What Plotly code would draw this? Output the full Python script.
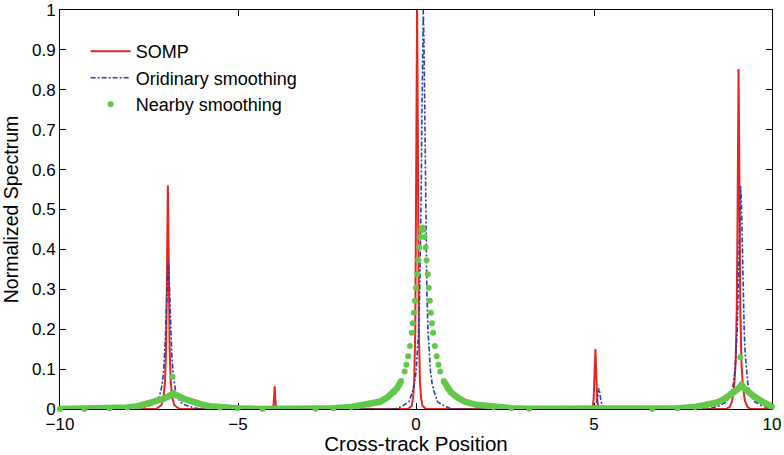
#!/usr/bin/env python3

import numpy as np
import plotly.graph_objs as go

# SOMP (red solid)
somp_x = [-10, -7.3, -7.15, -7.09, -7.05, -7.02, -7.0, -6.985, -6.97, -6.955, -6.94, -6.92, -6.89, -6.85, -6.79, -6.64,
          -4.05, -4.0, -3.985, -3.97, -3.955, -3.94, -3.89,
          -0.22, -0.12, -0.08, -0.05, -0.02, 0.0, 0.015, 0.03, 0.045, 0.06, 0.08, 0.11, 0.14, 0.18, 0.28,
          4.92, 4.96, 4.99, 5.01, 5.025, 5.04, 5.055, 5.07, 5.09, 5.12, 5.16,
          8.71, 8.81, 8.88, 8.94, 8.98, 9.01, 9.03, 9.045, 9.06, 9.075, 9.09, 9.11, 9.14, 9.18, 9.24, 9.31, 9.41, 10]
somp_y = [0, 0, 0.01, 0.03, 0.07, 0.15, 0.3, 0.45, 0.56, 0.45, 0.3, 0.15, 0.07, 0.03, 0.01, 0,
          0, 0.01, 0.03, 0.057, 0.03, 0.01, 0,
          0, 0.008, 0.03, 0.07, 0.2, 0.5, 0.8, 1.0, 0.8, 0.5, 0.2, 0.07, 0.03, 0.008, 0,
          0, 0.005, 0.025, 0.06, 0.11, 0.15, 0.11, 0.06, 0.025, 0.005, 0,
          0, 0.005, 0.02, 0.06, 0.12, 0.25, 0.45, 0.7, 0.852, 0.7, 0.45, 0.25, 0.12, 0.06, 0.02, 0.005, 0, 0]

# Oridinary smoothing (blue dash-dot)
ord_x = [-10, -7.86, -7.56, -7.36, -7.26, -7.21, -7.16, -7.12, -7.09, -7.06, -7.04, -7.02, -7.0, -6.98, -6.96,
         -6.94, -6.92, -6.90, -6.88, -6.86, -6.83, -6.80, -6.76, -6.71, -6.66, -6.56, -6.36, -6.06,
         -0.595, -0.395, -0.195, -0.095, -0.045, 0.005, 0.045, 0.075, 0.105, 0.125, 0.145, 0.165, 0.185, 0.205,
         0.225, 0.245, 0.265, 0.285, 0.305, 0.335, 0.365, 0.405, 0.455, 0.505, 0.605, 0.805, 1.005,
         4.94, 5.04, 5.08, 5.11, 5.14, 5.17, 5.2, 5.24, 5.34,
         8.22, 8.52, 8.72, 8.82, 8.87, 8.92, 8.96, 8.99, 9.02, 9.04, 9.06, 9.08, 9.10, 9.12,
         9.14, 9.16, 9.18, 9.20, 9.22, 9.25, 9.28, 9.32, 9.37, 9.42, 9.52, 9.72, 10]
ord_y = [0, 0, 0.006, 0.013, 0.023, 0.032, 0.048, 0.069, 0.096, 0.137, 0.177, 0.23, 0.291, 0.346, 0.369,
         0.346, 0.291, 0.23, 0.177, 0.137, 0.096, 0.069, 0.048, 0.032, 0.023, 0.013, 0.006, 0,
         0, 0.007, 0.018, 0.045, 0.063, 0.0955, 0.142, 0.2, 0.297, 0.398, 0.54, 0.725, 0.913, 1.0,
         0.913, 0.725, 0.54, 0.398, 0.297, 0.2, 0.142, 0.0955, 0.063, 0.045, 0.018, 0.007, 0,
         0, 0.008, 0.018, 0.035, 0.052, 0.035, 0.018, 0.008, 0,
         0, 0.008, 0.018, 0.031, 0.044, 0.066, 0.096, 0.134, 0.194, 0.254, 0.334, 0.43, 0.52, 0.559,
         0.52, 0.43, 0.334, 0.254, 0.194, 0.134, 0.096, 0.066, 0.044, 0.031, 0.018, 0.008, 0]

# Nearby smoothing (green dots)
near_x = [-10, -9.31, -8.61, -8.11, -7.81, -7.61, -7.41, -7.26, -7.11, -7.01, -6.91, -6.86, -6.81,
          -6.76, -6.71, -6.61, -6.51, -6.36, -6.21, -6.01, -5.81, -5.51, -5.01, -4.31,
          -2.82, -2.32, -1.82, -1.32, -1.02, -0.82, -0.62, -0.52, -0.42, -0.32, -0.27, -0.22, -0.17, -0.12,
          -0.09, -0.06, -0.03, 0.0, 0.03, 0.06, 0.09, 0.12, 0.15, 0.18, 0.21, 0.24, 0.27, 0.30, 0.33, 0.36,
          0.39, 0.42, 0.45, 0.48, 0.53, 0.58, 0.63, 0.68, 0.78, 0.88, 0.98, 1.18, 1.38, 1.68, 2.18, 2.68, 3.18,
          6.64, 7.34, 7.84, 8.14, 8.44, 8.64, 8.84, 8.94, 9.04, 9.09, 9.14, 9.19, 9.24, 9.34, 9.44, 9.64, 9.84, 10]
near_y = [0, 0, 0.002, 0.004, 0.007, 0.011, 0.016, 0.021, 0.025, 0.029, 0.033, 0.036, 0.039,
          0.036, 0.033, 0.029, 0.025, 0.021, 0.016, 0.011, 0.007, 0.004, 0.002, 0,
          0.0005, 0.002, 0.005, 0.011, 0.018, 0.028, 0.042, 0.053, 0.07, 0.094, 0.111, 0.132, 0.158, 0.191,
          0.215, 0.241, 0.271, 0.304, 0.338, 0.373, 0.405, 0.431, 0.449, 0.455, 0.449, 0.431, 0.405, 0.373, 0.338, 0.304,
          0.271, 0.241, 0.215, 0.191, 0.158, 0.132, 0.111, 0.094, 0.07, 0.053, 0.042, 0.028, 0.018, 0.011, 0.005, 0.002, 0.0005,
          0, 0.002, 0.005, 0.009, 0.016, 0.024, 0.035, 0.042, 0.05, 0.055, 0.06, 0.055, 0.05, 0.042, 0.035, 0.023, 0.012, 0.006]
# isolated green points above the humps
near_spike_x = [-6.84, 9.11]
near_spike_y = [0.081, 0.13]

x_ticks = [-10, -5, 0, 5, 10]
y_ticks = [0, 0.1, 0.2, 0.3, 0.4, 0.5, 0.6, 0.7, 0.8, 0.9, 1]
y_tick_labels = ['0', '0.1', '0.2', '0.3', '0.4', '0.5', '0.6', '0.7', '0.8', '0.9', '1']

red = '#e3261f'
blue = '#2a3fa6'
green = '#62c84a'
font = 'Liberation Sans, Arial, sans-serif'

# dots merge into a band where the curve is flat
band_y = [y if y <= 0.09 else None for y in near_y]

data = [
    go.Scatter(x=somp_x, y=somp_y, name='SOMP', mode='lines',
               line=dict(color=red, width=2)),
    go.Scatter(x=ord_x, y=ord_y, name='Oridinary smoothing', mode='lines',
               line=dict(color=blue, width=1.6, dash='5px,2px,2px,2px')),
    go.Scatter(x=near_x, y=band_y, mode='lines', showlegend=False, hoverinfo='skip',
               line=dict(color=green, width=6.5), connectgaps=False, cliponaxis=False),
    go.Scatter(x=near_x, y=near_y, name='Nearby smoothing', mode='markers',
               marker=dict(color=green, size=6), cliponaxis=False),
    go.Scatter(x=near_spike_x, y=near_spike_y, mode='markers', showlegend=False,
               marker=dict(color=green, size=6), cliponaxis=False),
]

axis_common = dict(
    showgrid=False, zeroline=False, showline=True, linecolor='black', linewidth=1,
    mirror='ticks', ticks='inside', ticklen=6, tickcolor='black', automargin=False,
    tickfont=dict(family=font, size=17, color='black'), layer='below traces',
    ticklabeloverflow='allow',
)

layout = go.Layout(
    width=784, height=455,
    margin=dict(l=60, r=12, t=10, b=46),
    paper_bgcolor='white', plot_bgcolor='white',
    font=dict(family=font, color='black'),
    showlegend=True,
    legend=dict(x=0.036, y=0.942, xanchor='left', yanchor='top',
                bgcolor='rgba(0,0,0,0)', itemwidth=40,
                font=dict(family=font, size=18, color='black')),
    xaxis=dict(range=[-10, 10], tickvals=x_ticks,
               title=dict(text='Cross-track Position', font=dict(size=20.5)),
               **axis_common),
    yaxis=dict(range=[0, 1], tickvals=y_ticks, ticktext=y_tick_labels,
               title=dict(text='Normalized Spectrum', font=dict(size=19.5)),
               **axis_common),
)

fig = go.Figure(data=data, layout=layout)
# drop the page's default body margin so the figure sits at the window corner
fig.write_html('out.html', config={'displayModeBar': False},
               post_script="document.body.style.margin='0';")
